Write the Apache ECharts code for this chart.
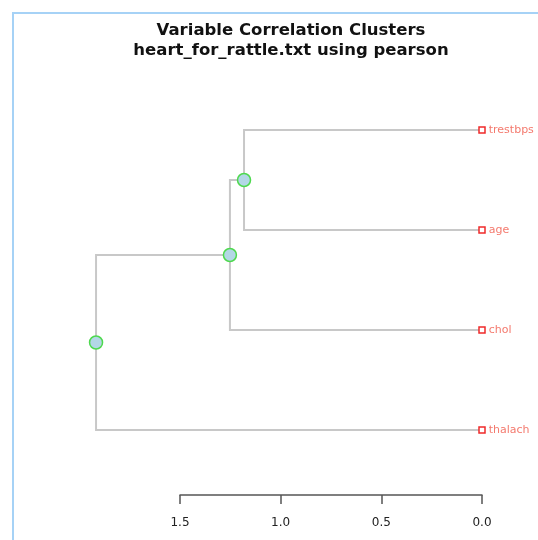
<!DOCTYPE html>
<html>
<head>
<meta charset="utf-8">
<script src="https://cdn.jsdelivr.net/npm/echarts@6/dist/echarts.min.js"></script>
<style>
html,body{margin:0;padding:0;background:#fff;}
#chart{width:538px;height:540px;}
</style>
</head>
<body>
<div id="chart"></div>
<script>
// Leaves (top to bottom)
const leaves = ['trestbps', 'age', 'chol', 'thalach'];
// Merge steps (hclust style: negative = leaf index+1, positive = earlier merge)
const mergeA = [-1, 1, 2];
const mergeB = [-2, -3, -4];
const mergeHeights = [1.182, 1.252, 1.917];
// Axis ticks
const xTicks = [1.5, 1.0, 0.5, 0.0];

// leaf row: top leaf gets the highest y value
function leafRow(i) { return leaves.length - 1 - i; }
function nodePos(ref, ys) {
  if (ref < 0) return [0, leafRow(-ref - 1)];
  return [mergeHeights[ref - 1], ys[ref - 1]];
}
const mergeY = [];
for (let i = 0; i < mergeHeights.length; i++) {
  const a = nodePos(mergeA[i], mergeY), b = nodePos(mergeB[i], mergeY);
  mergeY.push((a[1] + b[1]) / 2);
}
const bracketData = mergeHeights.map((h, i) => {
  const a = nodePos(mergeA[i], mergeY), b = nodePos(mergeB[i], mergeY);
  return [h, a[0], a[1], b[0], b[1]];
});

const chart = echarts.init(document.getElementById('chart'), null, {renderer: 'canvas'});
chart.setOption({
  animation: false,
  backgroundColor: '#ffffff',
  title: {
    text: 'Variable Correlation Clusters\nheart_for_rattle.txt using pearson',
    left: 286, top: 16, textAlign: 'center',
    textStyle: {fontFamily: 'DejaVu Sans', fontSize: 16.5, fontWeight: 'bold', color: '#111', lineHeight: 20}
  },
  graphic: [{
    type: 'polyline', z: 100,
    shape: {points: [[13, 540], [13, 13], [538, 13]]},
    style: {stroke: '#a6d2f6', lineWidth: 2, fill: null}
  }],
  grid: {left: 180, right: 56, top: 130, bottom: 45, outerBoundsMode: 'none'},
  xAxis: {
    type: 'value', inverse: true, min: xTicks[3], max: xTicks[0], interval: 0.5,
    position: 'bottom',
    axisLine: {show: true, onZero: false, lineStyle: {color: '#555', width: 1.5}},
    axisTick: {show: true, inside: false, length: 9, lineStyle: {color: '#555', width: 1.5}},
    axisLabel: {margin: 22, fontFamily: 'DejaVu Sans', fontSize: 12, color: '#222',
      formatter: v => v.toFixed(1)},
    splitLine: {show: false}
  },
  yAxis: {type: 'value', min: -0.65, max: leaves.length - 1, show: false},
  series: [
    {
      type: 'custom', clip: false, z: 1,
      data: bracketData,
      renderItem: function (params, api) {
        const h = api.value(0);
        const p1 = api.coord([api.value(1), api.value(2)]);
        const p2 = api.coord([h, api.value(2)]);
        const p3 = api.coord([h, api.value(4)]);
        const p4 = api.coord([api.value(3), api.value(4)]);
        return {
          type: 'polyline',
          shape: {points: [p1, p2, p3, p4]},
          style: {stroke: '#c8c8c8', lineWidth: 2, fill: null}
        };
      }
    },
    {
      type: 'scatter', clip: false, z: 3,
      data: mergeHeights.map((h, i) => [h, mergeY[i]]),
      symbol: 'circle', symbolSize: 13,
      itemStyle: {color: '#b3d7e6', borderColor: '#4ed94e', borderWidth: 1.5, opacity: 1}
    },
    {
      type: 'scatter', clip: false, z: 4,
      data: leaves.map((name, i) => ({value: [0, leafRow(i)], name: name})),
      symbol: 'rect', symbolSize: 6,
      itemStyle: {color: '#ffffff', borderColor: '#f02a2a', borderWidth: 1.5, opacity: 1},
      label: {show: true, position: 'right', distance: 3, formatter: p => p.name,
        fontFamily: 'DejaVu Sans', fontSize: 11, color: '#f47a6e'}
    }
  ]
});
</script>
</body>
</html>
